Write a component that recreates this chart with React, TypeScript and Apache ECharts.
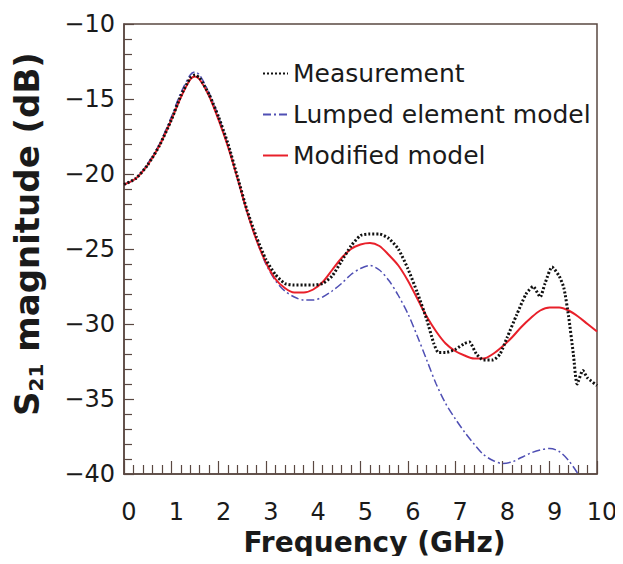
import React, { useEffect, useRef } from "react";
import * as echarts from "echarts";

const xTicks = [0, 1, 2, 3, 4, 5, 6, 7, 8, 9, 10];
const yTicks = [-40, -35, -30, -25, -20, -15, -10];

const measurement: [number, number][] = [
  [0, -20.7], [0.25, -20.3], [0.5, -19.4], [0.75, -18.1], [1.0, -16.4], [1.2, -14.8],
  [1.4, -13.6], [1.5, -13.4], [1.6, -13.6], [1.8, -14.7], [2.0, -16.2], [2.2, -18.0],
  [2.4, -20.2], [2.6, -22.4], [2.8, -24.2], [3.0, -25.7], [3.2, -26.7], [3.4, -27.3],
  [3.6, -27.4], [3.8, -27.4], [4.0, -27.4], [4.2, -27.3], [4.4, -26.8], [4.6, -25.8],
  [4.8, -24.8], [5.0, -24.1], [5.2, -24.0], [5.4, -24.0], [5.6, -24.3], [5.8, -25.0],
  [6.0, -26.3], [6.2, -27.9], [6.4, -29.7], [6.55, -31.3], [6.65, -31.9], [6.8, -31.9],
  [7.0, -31.7], [7.2, -31.3], [7.3, -31.2], [7.45, -32.0], [7.6, -32.4], [7.8, -32.4],
  [7.95, -32.0], [8.1, -30.9], [8.3, -29.4], [8.5, -28.0], [8.65, -27.5], [8.8, -28.2],
  [8.9, -27.3], [9.05, -26.2], [9.2, -26.8], [9.3, -27.6], [9.4, -29.5], [9.5, -32.0],
  [9.58, -34.0], [9.7, -33.1], [9.8, -33.6], [10, -34.1],
];

const lumped: [number, number][] = [
  [0, -20.7], [0.25, -20.3], [0.5, -19.3], [0.75, -18.0], [1.0, -16.2], [1.2, -14.6],
  [1.4, -13.4], [1.5, -13.2], [1.6, -13.4], [1.8, -14.6], [2.0, -16.2], [2.2, -18.1],
  [2.4, -20.3], [2.6, -22.5], [2.8, -24.4], [3.0, -26.0], [3.2, -27.1], [3.4, -27.8],
  [3.6, -28.2], [3.8, -28.4], [4.0, -28.4], [4.2, -28.2], [4.4, -27.8], [4.6, -27.3],
  [4.8, -26.7], [5.0, -26.3], [5.2, -26.1], [5.4, -26.4], [5.6, -27.1], [5.8, -28.1],
  [6.0, -29.3], [6.2, -30.8], [6.4, -32.4], [6.6, -34.0], [6.8, -35.3], [7.0, -36.3],
  [7.2, -37.2], [7.4, -38.0], [7.6, -38.7], [7.8, -39.1], [8.0, -39.3], [8.2, -39.2],
  [8.4, -38.9], [8.6, -38.6], [8.8, -38.4], [9.0, -38.3], [9.2, -38.5], [9.4, -39.1],
  [9.6, -40.0], [9.7, -40.6],
];

const modified: [number, number][] = [
  [0, -20.7], [0.25, -20.3], [0.5, -19.4], [0.75, -18.1], [1.0, -16.4], [1.2, -14.9],
  [1.4, -13.7], [1.5, -13.5], [1.6, -13.7], [1.8, -14.8], [2.0, -16.4], [2.2, -18.2],
  [2.4, -20.3], [2.6, -22.5], [2.8, -24.4], [3.0, -25.9], [3.2, -27.0], [3.4, -27.6],
  [3.6, -27.9], [3.8, -27.9], [4.0, -27.7], [4.2, -27.2], [4.4, -26.4], [4.6, -25.6],
  [4.8, -25.0], [5.0, -24.7], [5.2, -24.6], [5.4, -24.8], [5.6, -25.4], [5.8, -26.1],
  [6.0, -27.1], [6.2, -28.3], [6.4, -29.5], [6.6, -30.5], [6.8, -31.3], [7.0, -31.8],
  [7.2, -32.1], [7.4, -32.3], [7.6, -32.3], [7.8, -32.0], [8.0, -31.5], [8.2, -30.9],
  [8.4, -30.2], [8.6, -29.6], [8.8, -29.1], [9.0, -28.9], [9.2, -28.9], [9.4, -29.1],
  [9.6, -29.5], [9.8, -30.0], [10, -30.5],
];

const seriesNames = ["Measurement", "Lumped element model", "Modified model"];

const AXIS_COLOR = "#5a4842";
const FONT = "DejaVu Sans";

export default function App() {
  const ref = useRef<HTMLDivElement>(null);

  useEffect(() => {
    if (!ref.current) return;
    const chart = echarts.init(ref.current, undefined, { renderer: "svg" });
    chart.setOption({
      animation: false,
      backgroundColor: "#ffffff",
      grid: {
        left: 124,
        right: 26,
        top: 24,
        bottom: 90,
        show: true,
        borderColor: AXIS_COLOR,
        borderWidth: 1.5,
        backgroundColor: "transparent",
      },
      legend: {
        data: seriesNames,
        orient: "vertical",
        left: 257,
        top: 56,
        itemWidth: 25,
        itemHeight: 14,
        itemGap: 16,
        itemStyle: { opacity: 0 },
        textStyle: { fontFamily: FONT, fontSize: 25, color: "#1a1a1a" },
      },
      xAxis: {
        type: "value",
        min: xTicks[0],
        max: xTicks[xTicks.length - 1],
        interval: 1,
        name: "Frequency (GHz)",
        nameLocation: "middle",
        nameGap: 54,
        nameTextStyle: {
          fontFamily: FONT,
          fontWeight: "bold",
          fontSize: 28,
          color: "#1a1a1a",
          padding: [0, 0, 0, 28],
        },
        axisLine: { show: true, lineStyle: { color: AXIS_COLOR, width: 1.5 } },
        axisTick: { show: true, inside: true, length: 13, lineStyle: { color: AXIS_COLOR, width: 1.2 } },
        minorTick: { show: true, splitNumber: 5, length: 9, lineStyle: { color: AXIS_COLOR, width: 1.2 } },
        splitLine: { show: false },
        axisLabel: {
          fontFamily: FONT,
          fontSize: 24,
          color: "#1a1a1a",
          margin: 26,
          padding: [0, 0, 0, 10],
          formatter: (v: number) => String(v),
        },
      },
      yAxis: {
        type: "value",
        min: yTicks[0],
        max: yTicks[yTicks.length - 1],
        interval: 5,
        name: "{s|S}{sub|21}{s| magnitude (dB)}",
        nameLocation: "middle",
        nameRotate: 90,
        nameGap: 78,
        nameTextStyle: {
          color: "#1a1a1a",
          padding: [0, 0, 0, 30],
          rich: {
            s: { fontFamily: FONT, fontWeight: "bold", fontSize: 34, lineHeight: 38, color: "#1a1a1a" },
            sub: {
              fontFamily: FONT,
              fontWeight: "bold",
              fontSize: 20,
              lineHeight: 20,
              verticalAlign: "bottom",
              color: "#1a1a1a",
            },
          },
        },
        axisLine: { show: true, lineStyle: { color: AXIS_COLOR, width: 1.5 } },
        axisTick: { show: true, inside: true, length: 10, lineStyle: { color: AXIS_COLOR, width: 1.2 } },
        minorTick: { show: true, splitNumber: 5, length: 8, lineStyle: { color: AXIS_COLOR, width: 1.2 } },
        splitLine: { show: false },
        axisLabel: {
          fontFamily: FONT,
          fontSize: 24,
          color: "#1a1a1a",
          margin: 9,
          formatter: (v: number) => (v < 0 ? "\u2212" + Math.abs(v) : String(v)),
        },
      },
      series: [
        {
          name: seriesNames[1],
          type: "line",
          data: lumped,
          symbol: "none",
          smooth: 0.3,
          clip: true,
          z: 2,
          lineStyle: { color: "#4f4fb4", width: 1.5, type: [8, 3, 2, 3] },
          itemStyle: { color: "#4f4fb4" },
        },
        {
          name: seriesNames[2],
          type: "line",
          data: modified,
          symbol: "none",
          smooth: 0.3,
          clip: true,
          z: 3,
          lineStyle: { color: "#e8202a", width: 2 },
          itemStyle: { color: "#e8202a" },
        },
        {
          name: seriesNames[0],
          type: "line",
          data: measurement,
          symbol: "none",
          smooth: 0.2,
          clip: true,
          z: 4,
          lineStyle: { color: "#111111", width: 3, type: [2, 2] },
          itemStyle: { color: "#111111" },
        },
      ],
    });
    return () => chart.dispose();
  }, []);

  return <div ref={ref} style={{ width: 623, height: 564, margin: -8 }} />;
}
